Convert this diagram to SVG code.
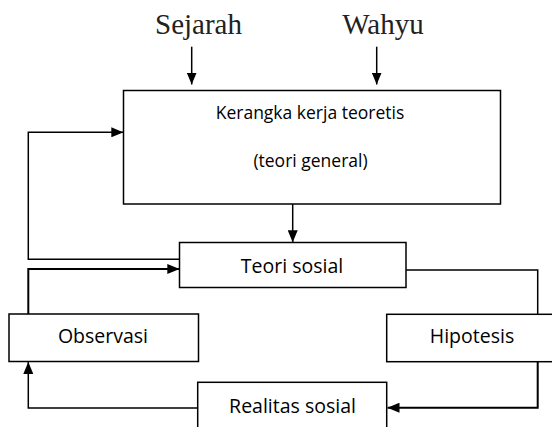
<svg xmlns="http://www.w3.org/2000/svg" width="552" height="427" viewBox="0 0 552 427">
<style>
.box{fill:#fff;stroke:#000;stroke-width:1.5}
.lbl{font-family:"Open Sans","Liberation Sans",sans-serif;font-size:19.5px;fill:#000;text-anchor:middle}
.sm{font-size:17.5px}
.serif{font-family:"Liberation Serif","DejaVu Serif",serif;font-size:29px;fill:#222;text-anchor:middle}
.ln{fill:none;stroke:#000;stroke-width:1.5}
.thick{stroke-width:2}
</style>
<defs>
<marker id="ah" viewBox="0 0 12 10" refX="12" refY="5" markerWidth="12" markerHeight="10" markerUnits="userSpaceOnUse" orient="auto">
<path d="M0,0 L12,5 L0,10 Z" fill="#000"/>
</marker>
</defs>
<rect width="552" height="427" fill="#fff"/>
<g id="sejarah"><text class="serif" x="198.5" y="33.5">Sejarah</text></g>
<g id="wahyu"><text class="serif" x="383" y="33.5">Wahyu</text></g>
<g id="kerangka">
<rect class="box" x="123.5" y="90.5" width="377" height="113.5"/>
<text class="lbl sm" x="310" y="119">Kerangka kerja teoretis</text>
<text class="lbl sm" x="310.5" y="166.5">(teori general)</text>
</g>
<g id="teori">
<rect class="box" x="179.5" y="242.5" width="226.5" height="45"/>
<text class="lbl" x="292" y="272.5">Teori sosial</text>
</g>
<g id="observasi">
<rect class="box" x="9" y="314" width="189.5" height="47.5"/>
<text class="lbl" x="103" y="343.3">Observasi</text>
</g>
<g id="hipotesis">
<rect class="box" x="386.7" y="314.3" width="175" height="47.4"/>
<text class="lbl" x="472" y="343.3">Hipotesis</text>
</g>
<g id="realitas">
<rect class="box" x="197.7" y="382.3" width="189" height="60"/>
<text class="lbl" x="292.5" y="413.3">Realitas sosial</text>
</g>
<g id="connectors">
<path class="ln" d="M191.7,46.7 V84.5" marker-end="url(#ah)"/>
<path class="ln" d="M376.7,46.7 V84.5" marker-end="url(#ah)"/>
<path class="ln" d="M292.7,204 V242.3" marker-end="url(#ah)"/>
<path class="ln" d="M179.3,259.3 H28.3 V132.3 H123.3" marker-end="url(#ah)"/>
<path class="ln thick" d="M28.3,314 V269 H179.3" marker-end="url(#ah)"/>
<path class="ln" d="M406,270 H537.7 V314.3"/>
<path class="ln thick" d="M537.7,361.7 V407.7 H387.5" marker-end="url(#ah)"/>
<path class="ln" d="M197.7,408 H28.3 V362" marker-end="url(#ah)"/>
</g>
</svg>
